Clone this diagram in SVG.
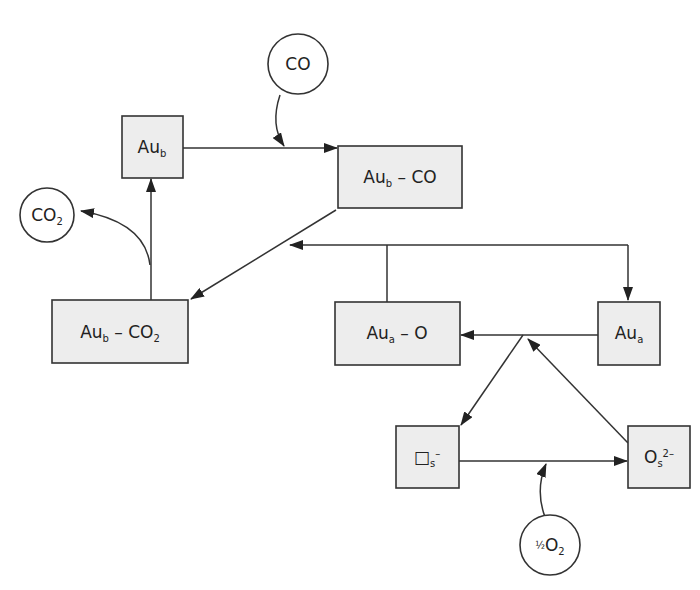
<svg xmlns="http://www.w3.org/2000/svg" width="700" height="590" viewBox="0 0 700 590">
<style>
.b{fill:#ededed;stroke:#333;stroke-width:1.6}
.c{fill:#fff;stroke:#333;stroke-width:1.6}
.t{font-family:"DejaVu Sans",sans-serif;font-size:17px;fill:#222;text-anchor:middle}
.s{font-size:10px}
.l{fill:none;stroke:#333;stroke-width:1.5;marker-end:url(#a)}
.n{fill:none;stroke:#333;stroke-width:1.5}
</style>
<defs><marker id="a" markerWidth="14" markerHeight="10" refX="13" refY="5" orient="auto" markerUnits="userSpaceOnUse"><path d="M0,0L14,5L0,10z" fill="#222"/></marker></defs>
<rect width="700" height="590" fill="#fff"/>
<g id="connectors">
<path class="l" d="M183,148H337"/>
<path class="l" d="M280,95Q270,125 284,146"/>
<path class="l" d="M336,210L191,299"/>
<path class="l" d="M628,245H290"/>
<path class="l" d="M628,245V300"/>
<path class="n" d="M387,245V302"/>
<path class="l" d="M151,300V179"/>
<path class="l" d="M150,265Q145,222 81,211"/>
<path class="l" d="M598,335H461"/>
<path class="l" d="M523,335L461,425"/>
<path class="l" d="M628,443L528,339"/>
<path class="l" d="M459,461H627"/>
<path class="l" d="M545,517Q535,490 546,464"/>
</g>
<g id="co"><circle class="c" cx="298" cy="64" r="30"/><text class="t" x="298" y="70">CO</text></g>
<g id="co2"><circle class="c" cx="47" cy="215" r="27"/><text class="t" x="47" y="221">CO<tspan class="s" dy="4">2</tspan></text></g>
<g id="halfo2"><circle class="c" cx="550" cy="545" r="30"/><text class="t" x="550" y="551"><tspan class="s" dy="-2">½</tspan><tspan dy="2">O</tspan><tspan class="s" dy="4">2</tspan></text></g>
<g id="aub"><rect class="b" x="122" y="116" width="61" height="62"/><text class="t" x="152" y="153">Au<tspan class="s" dy="4">b</tspan></text></g>
<g id="aubco"><rect class="b" x="338" y="146" width="124" height="62"/><text class="t" x="400" y="183">Au<tspan class="s" dy="4">b</tspan><tspan dy="-4"> – CO</tspan></text></g>
<g id="aubco2"><rect class="b" x="52" y="300" width="136" height="63"/><text class="t" x="120" y="338">Au<tspan class="s" dy="4">b</tspan><tspan dy="-4"> – CO</tspan><tspan class="s" dy="4">2</tspan></text></g>
<g id="auao"><rect class="b" x="335" y="302" width="125" height="63"/><text class="t" x="397" y="339">Au<tspan class="s" dy="4">a</tspan><tspan dy="-4"> – O</tspan></text></g>
<g id="aua"><rect class="b" x="598" y="302" width="62" height="63"/><text class="t" x="629" y="339">Au<tspan class="s" dy="4">a</tspan></text></g>
<g id="vac"><rect class="b" x="396" y="426" width="63" height="62"/><text class="t" x="427" y="463">□<tspan class="s" dy="4">s</tspan><tspan class="s" dy="-10">–</tspan></text></g>
<g id="os"><rect class="b" x="628" y="426" width="62" height="62"/><text class="t" x="659" y="463">O<tspan class="s" dy="4">s</tspan><tspan class="s" dy="-10">2–</tspan></text></g>
</svg>
